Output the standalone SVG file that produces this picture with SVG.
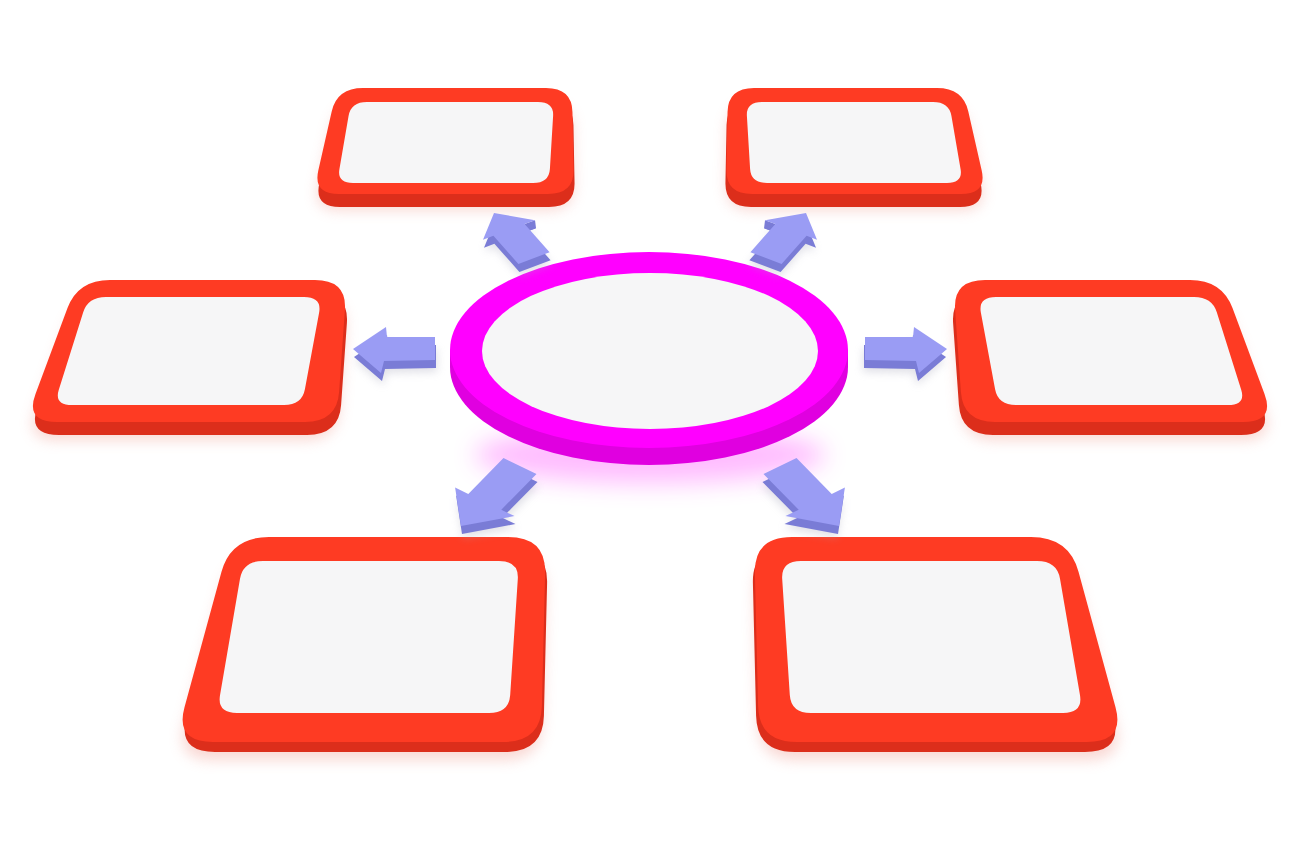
<svg xmlns="http://www.w3.org/2000/svg" xmlns:xlink="http://www.w3.org/1999/xlink" width="1300" height="866" viewBox="0 0 1300 866">
  <style>
    .rtop { fill: #fe3b23; }
    .rside { fill: #dc2e1b; }
    .inner { fill: #f6f6f7; }
    .shadow { fill: #f2a89f; opacity: 0.45; filter: url(#blur); }
    .atop { fill: #9a9cf4; }
    .aside { fill: #7a7cd6; }
    .ashadow { fill: #a8a8bc; opacity: 0.35; filter: url(#blur2); }
    .mtop { fill: #ff00ff; }
    .mside { fill: #e000e0; }
  </style>
  <defs>
    <filter id="blur" x="-30%" y="-30%" width="160%" height="180%">
      <feGaussianBlur stdDeviation="7"/>
    </filter>
    <filter id="blur2" x="-50%" y="-50%" width="200%" height="200%">
      <feGaussianBlur stdDeviation="4"/>
    </filter>
    <filter id="glow" x="-30%" y="-100%" width="160%" height="300%">
      <feGaussianBlur stdDeviation="12"/>
    </filter>
    <path id="boxTLo" d="M363,88 L546,88 Q572,88 572.45,112 L573.55,170 Q574,194 548,194 L339,194 Q313,194 318.3,170.6 L331.7,111.4 Q337,88 363,88 Z"/>
    <path id="boxTLi" d="M367,102 L538,102 Q554,102 553.1,116 L549.9,169 Q549,183 533,183 L353,183 Q337,183 339.4,169.2 L348.6,115.8 Q351,102 367,102 Z"/>
    <path id="boxMLo" d="M110,280 L315,280 Q347,280 344.9,309.9 L339.1,392.1 Q337,422 305,422 L57,422 Q25,422 35.5,393.9 L67.5,308.1 Q78,280 110,280 Z"/>
    <path id="boxMLi" d="M106,297 L304,297 Q322,297 319.1,312.7 L304.9,389.3 Q302,405 284,405 L72,405 Q54,405 58.8,389.7 L83.2,312.3 Q88,297 106,297 Z"/>
    <path id="boxBLo" d="M269,537 L508,537 Q546,537 545.1,573 L541.9,706 Q541,742 503,742 L213,742 Q175,742 184.5,707.3 L221.5,571.7 Q231,537 269,537 Z"/>
    <path id="boxBLi" d="M263,561 L499,561 Q519,561 517.8,579 L510.2,695 Q509,713 489,713 L237,713 Q217,713 220,695.3 L240,578.7 Q243,561 263,561 Z"/>
    <path id="arrL" d="M353,349 L386,327 L387,337 L435,337 L435,360 L384,361 L381,373 Z"/>
    <path id="arrTL" d="M494,213 L535,220.2 L524.6,224 L549.6,252.2 L518.4,263.9 L493.4,235.8 L483,239.7 Z"/>
    <path id="arrTLfill" d="M535,220.2 L536,228.2 L525.6,232 L524.6,224 Z"/>
    <path id="arrBL" d="M461,526 L455.1,487.5 L468.3,493.9 L503.5,458.1 L536.5,473.9 L501.3,509.7 L514.5,516.1 Z"/>
  </defs>

  <rect width="1300" height="866" fill="#ffffff"/>

  <!-- Nodes -->
  <g id="box-top-left">
    <use xlink:href="#boxTLo" class="shadow" transform="translate(0,16)"/>
    <use xlink:href="#boxTLo" class="rside" transform="translate(1,13)"/>
    <use xlink:href="#boxTLo" class="rtop"/>
    <use xlink:href="#boxTLi" class="inner"/>
  </g>
  <g id="box-top-right" transform="matrix(-1,0,0,1,1300,0)">
    <use xlink:href="#boxTLo" class="shadow" transform="translate(0,16)"/>
    <use xlink:href="#boxTLo" class="rside" transform="translate(1,13)"/>
    <use xlink:href="#boxTLo" class="rtop"/>
    <use xlink:href="#boxTLi" class="inner"/>
  </g>
  <g id="box-middle-left">
    <use xlink:href="#boxMLo" class="shadow" transform="translate(0,18)"/>
    <use xlink:href="#boxMLo" class="rside" transform="translate(2,13)"/>
    <use xlink:href="#boxMLo" class="rtop"/>
    <use xlink:href="#boxMLi" class="inner"/>
  </g>
  <g id="box-middle-right" transform="matrix(-1,0,0,1,1300,0)">
    <use xlink:href="#boxMLo" class="shadow" transform="translate(0,18)"/>
    <use xlink:href="#boxMLo" class="rside" transform="translate(2,13)"/>
    <use xlink:href="#boxMLo" class="rtop"/>
    <use xlink:href="#boxMLi" class="inner"/>
  </g>
  <g id="box-bottom-left">
    <use xlink:href="#boxBLo" class="shadow" transform="translate(0,18)"/>
    <use xlink:href="#boxBLo" class="rside" transform="translate(2,10)"/>
    <use xlink:href="#boxBLo" class="rtop"/>
    <use xlink:href="#boxBLi" class="inner"/>
  </g>
  <g id="box-bottom-right" transform="matrix(-1,0,0,1,1300,0)">
    <use xlink:href="#boxBLo" class="shadow" transform="translate(0,18)"/>
    <use xlink:href="#boxBLo" class="rside" transform="translate(2,10)"/>
    <use xlink:href="#boxBLo" class="rtop"/>
    <use xlink:href="#boxBLi" class="inner"/>
  </g>

  <g id="center-ellipse">
    <ellipse cx="650" cy="455" rx="175" ry="28" fill="#ff40ff" opacity="0.35" filter="url(#glow)"/>
    <ellipse cx="649" cy="367" rx="199" ry="98" class="mside"/>
    <rect x="450" y="350" width="398" height="17" class="mside"/>
    <ellipse cx="649" cy="350" rx="199" ry="98" class="mtop"/>
    <ellipse cx="650" cy="351" rx="168" ry="78" class="inner"/>
  </g>

  <!-- Connectors -->
  <g id="connectors">
    <g id="arrow-top-left">
      <use xlink:href="#arrTL" class="ashadow" transform="translate(2,12)"/>
      <use xlink:href="#arrTL" class="aside" transform="translate(1,8)"/>
      <use xlink:href="#arrTLfill" class="aside"/>
      <use xlink:href="#arrTL" class="atop"/>
    </g>
    <g id="arrow-top-right" transform="matrix(-1,0,0,1,1300,0)">
      <use xlink:href="#arrTL" class="ashadow" transform="translate(2,12)"/>
      <use xlink:href="#arrTL" class="aside" transform="translate(1,8)"/>
      <use xlink:href="#arrTLfill" class="aside"/>
      <use xlink:href="#arrTL" class="atop"/>
    </g>
    <g id="arrow-left">
      <use xlink:href="#arrL" class="ashadow" transform="translate(2,12)"/>
      <use xlink:href="#arrL" class="aside" transform="translate(1,8)"/>
      <use xlink:href="#arrL" class="atop"/>
    </g>
    <g id="arrow-right" transform="matrix(-1,0,0,1,1300,0)">
      <use xlink:href="#arrL" class="ashadow" transform="translate(2,12)"/>
      <use xlink:href="#arrL" class="aside" transform="translate(1,8)"/>
      <use xlink:href="#arrL" class="atop"/>
    </g>
    <g id="arrow-bottom-left">
      <use xlink:href="#arrBL" class="ashadow" transform="translate(2,12)"/>
      <use xlink:href="#arrBL" class="aside" transform="translate(1,8)"/>
      <use xlink:href="#arrBL" class="atop"/>
    </g>
    <g id="arrow-bottom-right" transform="matrix(-1,0,0,1,1300,0)">
      <use xlink:href="#arrBL" class="ashadow" transform="translate(2,12)"/>
      <use xlink:href="#arrBL" class="aside" transform="translate(1,8)"/>
      <use xlink:href="#arrBL" class="atop"/>
    </g>
  </g>
</svg>
